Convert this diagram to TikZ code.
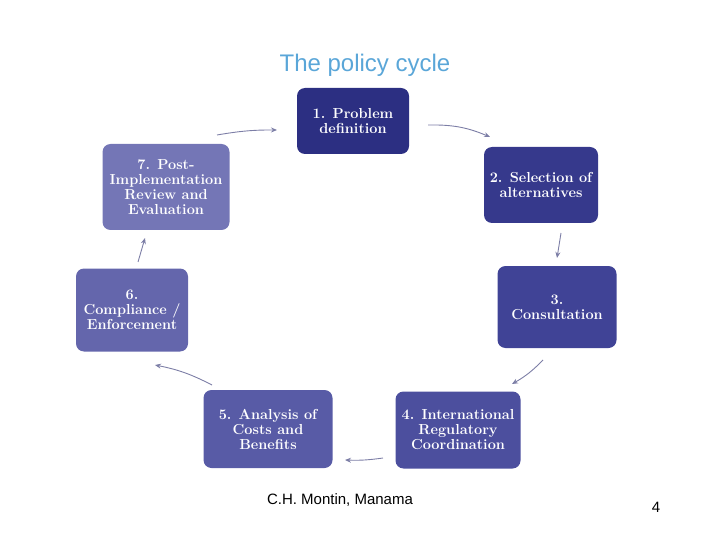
\documentclass[tikz,border=0pt]{standalone}
\usepackage{fontspec}
\newfontfamily\sans{Liberation Sans}
\usetikzlibrary{arrows.meta}
\definecolor{titleblue}{HTML}{5AA6D8}
\definecolor{arrowgrey}{HTML}{7C7EA6}
\definecolor{stepA}{RGB}{44,47,130}
\definecolor{stepB}{RGB}{54,57,140}
\definecolor{stepC}{RGB}{64,67,150}
\definecolor{stepD}{RGB}{76,79,158}
\definecolor{stepE}{RGB}{88,91,166}
\definecolor{stepF}{RGB}{100,102,172}
\definecolor{stepG}{RGB}{116,118,182}
\tikzset{
  phase/.style={rounded corners=8pt, text=white, align=center, font=\bfseries\fontsize{14.5}{15}\selectfont, inner sep=0pt},
  cyc/.style={draw=arrowgrey, line width=0.9pt, -{Stealth[length=6pt,width=5pt]}}
}
\begin{document}
\begin{tikzpicture}[x=1pt,y=-1pt]
\useasboundingbox (0,0) rectangle (720,540);
% steps
\node[phase, fill=stepA, minimum width=112pt, minimum height=66pt] (s1) at (353,121) {1. Problem\\definition};
\node[phase, fill=stepB, minimum width=114pt, minimum height=76pt] (s2) at (541,185) {2. Selection of\\alternatives};
\node[phase, fill=stepC, minimum width=119pt, minimum height=82pt] (s3) at (557,307) {3.\\Consultation};
\node[phase, fill=stepD, minimum width=125pt, minimum height=77pt] (s4) at (458,430) {4. International\\Regulatory\\Coordination};
\node[phase, fill=stepE, minimum width=129pt, minimum height=78pt] (s5) at (268,429) {5. Analysis of\\Costs and\\Benefits};
\node[phase, fill=stepF, minimum width=112pt, minimum height=83pt] (s6) at (132,310) {6.\\Compliance /\\Enforcement};
\node[phase, fill=stepG, minimum width=127pt, minimum height=86pt] (s7) at (166,187) {7. Post-\\Implementation\\Review and\\Evaluation};
% arrow ends
\coordinate (a1) at (428,125); \coordinate (b1) at (490,137);
\coordinate (a2) at (561,233); \coordinate (b2) at (557,258);
\coordinate (a3) at (543,360); \coordinate (b3) at (512,384);
\coordinate (a4) at (383,458); \coordinate (b4) at (345,460);
\coordinate (a5) at (212,385); \coordinate (b5) at (155,365);
\coordinate (a6) at (138,262); \coordinate (b6) at (145,238);
\coordinate (a7) at (217,135); \coordinate (b7) at (277,130);
\draw[cyc] (a1) to[bend left=12] (b1);
\draw[cyc] (a2) to (b2);
\draw[cyc] (a3) to[bend left=8] (b3);
\draw[cyc] (a4) to[bend left=5] (b4);
\draw[cyc] (a5) to[bend right=8] (b5);
\draw[cyc] (a6) to (b6);
\draw[cyc] (a7) to[bend left=5] (b7);
% texts
\node[text=titleblue, font=\sans\fontsize{24}{24}\selectfont] (title) at (365,65) {The policy cycle};
\node[font=\sans\fontsize{15}{15}\selectfont] (foot) at (340,500) {C.H. Montin, Manama};
\node[font=\sans\fontsize{15}{15}\selectfont] (page) at (656,507) {4};
\end{tikzpicture}
\end{document}
